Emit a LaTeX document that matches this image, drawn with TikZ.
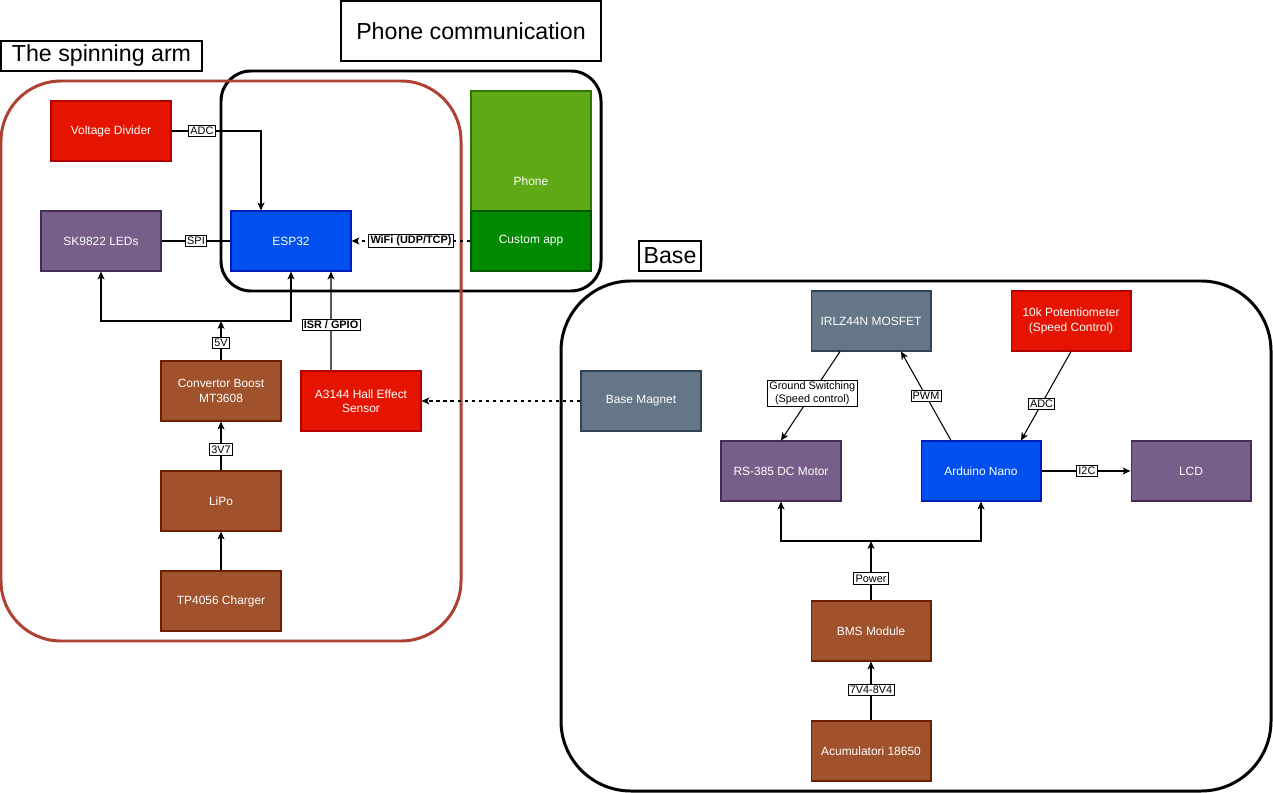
\documentclass[tikz,border=0pt]{standalone}
\usepackage{fontspec}
\setmainfont{Liberation Sans}
\usepackage{tikz}
\usetikzlibrary{shapes,arrows}
\usetikzlibrary{arrows.meta}
\usetikzlibrary{positioning}
\usepackage{xcolor}

\definecolor{redfill}{HTML}{E51400}
\definecolor{redline}{HTML}{B20000}
\definecolor{purplefill}{HTML}{76608A}
\definecolor{purpleline}{HTML}{432D57}
\definecolor{bluefill}{HTML}{0050EF}
\definecolor{blueline}{HTML}{001DBC}
\definecolor{lgreenfill}{HTML}{60A917}
\definecolor{lgreenline}{HTML}{2D7600}
\definecolor{dgreenfill}{HTML}{008A00}
\definecolor{dgreenline}{HTML}{005700}
\definecolor{brownfill}{HTML}{A0522D}
\definecolor{brownline}{HTML}{6D1F00}
\definecolor{grayfill}{HTML}{647687}
\definecolor{grayline}{HTML}{314354}
\definecolor{armline}{HTML}{AE4132}

\begin{document}
\begin{tikzpicture}[x=0.02cm,y=-0.02cm,every node/.style={align=center},
  block/.style={draw,line width=0.6pt,minimum width=2.4cm,minimum height=1.2cm,
    inner sep=1pt,text=white,font=\fontsize{6.8}{8.2}\selectfont},
  redbox/.style={block,fill=redfill,draw=redline},
  purplebox/.style={block,fill=purplefill,draw=purpleline},
  bluebox/.style={block,fill=bluefill,draw=blueline},
  brownbox/.style={block,fill=brownfill,draw=brownline},
  graybox/.style={block,fill=grayfill,draw=grayline},
  title/.style={draw,line width=1.1pt,inner sep=0pt,font=\fontsize{13.2}{15}\selectfont},
  lbl/.style={draw,solid,fill=white,line width=0.5pt,inner sep=1pt,text=black,
    font=\fontsize{6.2}{7.2}\selectfont},
  lblb/.style={lbl,font=\fontsize{6.2}{7.2}\selectfont\bfseries},
  conn/.style={line width=0.6pt,-{Stealth[length=4.5pt,width=4pt,inset=1.2pt]}},
  dashlink/.style={dashed,dash pattern=on 2pt off 2pt}]

  \useasboundingbox (0,0) rectangle (1273,793);

  % containers
  \draw[line width=1.7pt,rounded corners=0.6cm] (221,71) rectangle (601,291);
  \draw[line width=1.7pt,draw=armline,rounded corners=1.2cm] (1,81) rectangle (461,641);
  \draw[line width=1.7pt,rounded corners=1.4cm] (561,281) rectangle (1271,791);

  \node[title,minimum width=4.02cm,minimum height=0.6cm] (tarm) at (101.5,56) {The spinning arm};
  \node[title,minimum width=5.2cm,minimum height=1.2cm] (tphone) at (471,31) {Phone communication};
  \node[title,minimum width=1.24cm,minimum height=0.6cm] (tbase) at (670,256) {Base};

  % spinning arm
  \node[redbox] (vd) at (111,131) {Voltage Divider};
  \node[purplebox] (leds) at (101,241) {SK9822 LEDs};
  \node[bluebox] (esp) at (291,241) {ESP32};
  \node[brownbox] (boost) at (221,391) {Convertor Boost\\MT3608};
  \node[redbox] (hall) at (361,401) {A3144 Hall Effect\\Sensor};
  \node[brownbox] (lipo) at (221,501) {LiPo};
  \node[brownbox] (charger) at (221,601) {TP4056 Charger};

  % phone
  \node[block,fill=lgreenfill,draw=lgreenline,minimum height=3.6cm] (phone) at (531,181) {Phone};
  \node[block,fill=dgreenfill,draw=dgreenline] (app) at (531,241) {Custom app};

  % base
  \node[graybox] (magnet) at (641,401) {Base Magnet};
  \node[graybox] (mosfet) at (871,321) {IRLZ44N MOSFET};
  \node[redbox] (pot) at (1071,321) {10k Potentiometer\\(Speed Control)};
  \node[purplebox] (motor) at (781,471) {RS-385 DC Motor};
  \node[bluebox] (nano) at (981,471) {Arduino Nano};
  \node[purplebox] (lcd) at (1191,471) {LCD};
  \node[brownbox] (bms) at (871,631) {BMS Module};
  \node[brownbox] (acc) at (871,751) {Acumulatori 18650};

  % arm links
  \draw[conn] (vd.east) -| node[lbl,pos=.17] {ADC} ([xshift=-0.6cm]esp.north);
  \draw[line width=0.6pt] (leds.east) -- node[lbl] {SPI} (esp.west);
  \draw[conn,dashlink] (app.west) -- node[lblb] {WiFi (UDP/TCP)} (esp.east);
  \coordinate (j5) at (221,321);
  \draw[conn] (boost.north) -- node[lbl,pos=.45] {5V} (j5);
  \draw[conn] (j5) -| (leds.south);
  \draw[conn] (j5) -| (esp.south);
  \draw[conn] ([xshift=-0.6cm]hall.north) -- node[lblb,pos=.46] {ISR / GPIO} ([xshift=0.8cm]esp.south);
  \draw[conn] (lipo.north) -- node[lbl,pos=.43] {3V7} (boost.south);
  \draw[conn] (charger.north) -- (lipo.south);
  \draw[conn,dashlink] (magnet.west) -- (hall.east);

  % base links
  \draw[conn] ([xshift=-0.62cm]mosfet.south) -- node[lbl,pos=.47] {Ground Switching\\(Speed control)} (motor.north);
  \draw[conn] ([xshift=-0.6cm]nano.north) -- node[lbl] {PWM} ([xshift=0.6cm]mosfet.south);
  \draw[conn] (pot.south) -- node[lbl,pos=.59] {ADC} ([xshift=0.8cm]nano.north);
  \draw[conn] (nano.east) -- node[lbl,pos=.51] {I2C} (lcd.west);
  \coordinate (jp) at (871,541);
  \draw[conn] (bms.north) -- node[lbl,pos=.37] {Power} (jp);
  \draw[conn] (jp) -| (motor.south);
  \draw[conn] (jp) -| (nano.south);
  \draw[conn] (acc.north) -- node[lbl,pos=.52] {7V4-8V4} (bms.south);

\end{tikzpicture}
\end{document}
